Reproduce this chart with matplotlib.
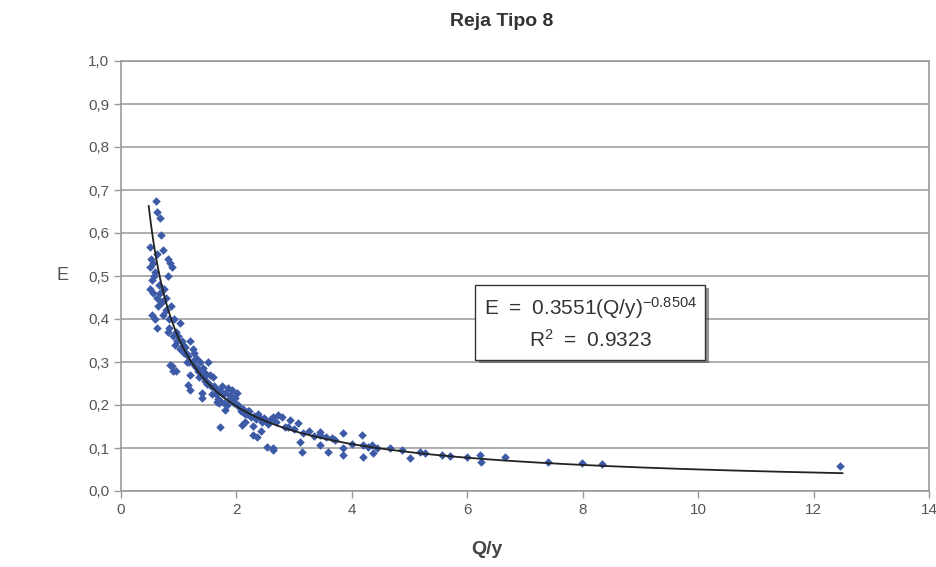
import numpy as np
import matplotlib.pyplot as plt
import matplotlib.patheffects as pe

plt.rcParams['font.family'] = ['Liberation Sans', 'DejaVu Sans']

# Datos (Q/y, E)
qy = [0.61, 0.62, 0.68, 0.69, 0.50, 0.52, 0.50, 0.55, 0.59, 0.62, 0.73, 0.81, 0.85,
      0.88, 0.81, 0.54, 0.50, 0.55, 0.62, 0.68, 0.75, 0.64, 0.54, 0.59, 0.62, 0.71,
      0.78, 0.87, 0.83, 0.73, 0.81, 0.92, 0.95, 0.94, 0.99, 1.02, 0.88, 0.95,
      1.06, 1.11, 1.20, 1.16, 1.25, 1.30, 1.28, 1.37, 1.42, 1.51, 1.44, 1.54, 1.49,
      1.59, 1.63, 1.58, 1.65, 1.72, 1.75, 1.80, 1.85, 1.89, 1.92, 1.98, 2.01,
      0.85, 0.90, 1.20, 1.16, 1.20, 1.40, 1.40, 1.72, 1.66, 1.80, 2.10, 2.29, 2.36,
      2.53, 2.63, 1.72, 1.10, 1.15, 1.33, 1.35, 1.46, 1.56, 1.68, 1.70, 1.78, 1.83,
      1.95, 2.05, 2.08, 2.12, 2.15, 2.18, 2.22, 2.25, 2.30, 2.34, 2.40, 2.45, 2.50,
      2.55, 2.60, 2.15, 2.28, 2.42,
      2.63, 2.72, 2.79, 2.93, 3.07, 3.10, 3.14, 3.15, 3.45, 3.45, 3.45, 3.59, 3.66,
      3.85, 3.85, 3.85, 4.18, 4.19, 4.19, 4.35, 4.37, 4.44, 4.66, 4.87, 5.01, 5.18,
      5.27, 5.56, 5.70, 6.00, 6.22, 6.24, 6.65, 7.40, 7.99, 8.34, 12.46, 2.63,
      2.85, 3.00, 3.25, 3.35, 3.55, 3.70, 4.00, 4.28,
      0.57, 0.65, 0.70, 0.78, 0.84, 0.90, 0.97, 1.03, 1.08, 1.13, 1.18, 1.23, 1.27,
      1.32, 1.38, 1.45, 1.48, 1.53, 1.61, 1.67, 1.77, 1.87, 1.94, 2.03, 2.20, 2.38,
      2.48, 2.68, 2.90]
E = [0.674, 0.649, 0.635, 0.595, 0.567, 0.540, 0.520, 0.530, 0.510, 0.550, 0.560,
     0.540, 0.530, 0.520, 0.500, 0.490, 0.470, 0.460, 0.450, 0.460, 0.470, 0.430,
     0.410, 0.400, 0.380, 0.440, 0.420, 0.430, 0.400, 0.410, 0.370, 0.400, 0.370,
     0.340, 0.360, 0.390, 0.290, 0.280,
     0.350, 0.335, 0.350, 0.315, 0.330, 0.310, 0.290, 0.300, 0.285, 0.300, 0.265,
     0.270, 0.250, 0.265, 0.240, 0.225, 0.225, 0.233, 0.244, 0.228, 0.240, 0.223,
     0.235, 0.216, 0.228,
     0.293, 0.280, 0.270, 0.247, 0.235, 0.228, 0.216, 0.149, 0.207, 0.188, 0.153,
     0.130, 0.126, 0.102, 0.100, 0.210, 0.320, 0.300, 0.280, 0.265, 0.255, 0.245,
     0.215, 0.205, 0.205, 0.200, 0.205, 0.195, 0.185, 0.190, 0.180, 0.178, 0.185,
     0.172, 0.175, 0.168, 0.170, 0.160, 0.165, 0.155, 0.168, 0.160, 0.152, 0.140,
     0.172, 0.177, 0.172, 0.165, 0.158, 0.114, 0.091, 0.135, 0.137, 0.130, 0.107,
     0.091, 0.123, 0.135, 0.100, 0.084, 0.130, 0.107, 0.079, 0.107, 0.088, 0.100,
     0.100, 0.095, 0.077, 0.091, 0.088, 0.084, 0.081, 0.079, 0.084, 0.067, 0.079,
     0.067, 0.065, 0.063, 0.058, 0.095,
     0.150, 0.145, 0.140, 0.128, 0.125, 0.118, 0.110, 0.102,
     0.500, 0.480, 0.440, 0.450, 0.380, 0.360, 0.350, 0.330, 0.340, 0.320, 0.300,
     0.300, 0.320, 0.285, 0.270, 0.275, 0.255, 0.250, 0.245, 0.235, 0.225, 0.215,
     0.210, 0.200, 0.185, 0.180, 0.170, 0.160, 0.150]

coef_a = 0.3551
coef_b = -0.8504
x_min_fit = 0.48
x_max_fit = 12.5

xticks = [0, 2, 4, 6, 8, 10, 12, 14]
yticks = [0.0, 0.1, 0.2, 0.3, 0.4, 0.5, 0.6, 0.7, 0.8, 0.9, 1.0]

fig = plt.figure(figsize=(9.37, 5.67), dpi=100)
ax = fig.add_axes([121/937, 1 - 491/567, (929 - 121)/937, (491 - 61)/567])

gris = '#555555'
ax.set_xlim(0, 14)
ax.set_ylim(0, 1.0)
ax.set_xticks(xticks)
ax.set_yticks(yticks)
ax.set_yticklabels([f'{v:.1f}'.replace('.', ',') for v in yticks])
ax.grid(axis='y', color='#a0a0a0', linewidth=1.2)
ax.set_axisbelow(True)
for s in ax.spines.values():
    s.set_color('#9a9a9a')
    s.set_linewidth(1.2)
ax.tick_params(colors=gris, labelsize=11, length=5, width=1, direction='out')
ax.tick_params(color='#9a9a9a')

ax.scatter(qy, E, marker='D', s=19, color='#3c5aa6', linewidths=0, zorder=3)

xf = np.linspace(x_min_fit, x_max_fit, 300)
ax.plot(xf, coef_a * xf ** coef_b, color='#222222', linewidth=1.3, zorder=4)

linea1 = r'$\mathregular{E\ {=}\ 0.3551(Q/y)^{-0.8504}}$'
linea2 = r'$\mathregular{R^2\ {=}\ 0.9323}$'
t = ax.text(8.13, 0.39, linea1 + '\n' + linea2,
            ha='center', va='center', fontsize=15, color='#333333', linespacing=1.45,
            zorder=5,
            bbox=dict(boxstyle='square,pad=0.4', facecolor='white', edgecolor='#333333',
                      linewidth=1.0))
t.get_bbox_patch().set_path_effects([pe.SimplePatchShadow(offset=(2.5, -2.5), alpha=0.6),
                                     pe.Normal()])

fig.text(502/937, 1 - 22/567, 'Reja Tipo 8', ha='center', va='center',
         fontsize=14, fontweight='bold', color='#333333')
fig.text(487/937, 1 - 550/567, 'Q/y', ha='center', va='center',
         fontsize=14, fontweight='bold', color='#444444')
fig.text(63/937, 1 - 276/567, 'E', ha='center', va='center',
         fontsize=13, color='#555555')

fig.savefig('out.png', dpi=100)
